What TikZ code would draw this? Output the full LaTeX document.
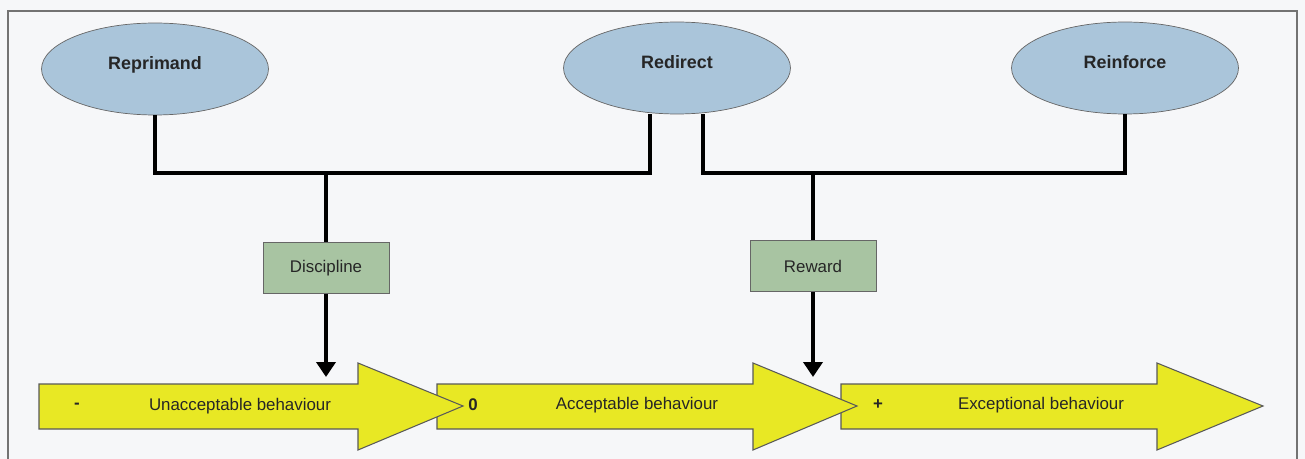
\documentclass[tikz,border=0pt]{standalone}
\usepackage{fontspec}
\setmainfont{Liberation Sans}
\usepackage{tikz}
\usetikzlibrary{shapes.geometric, arrows.meta, calc}

\definecolor{ovalblue}{RGB}{170,197,218}
\definecolor{tagGreen}{RGB}{168,196,162}
\definecolor{barYellow}{RGB}{232,232,36}
\definecolor{paper}{RGB}{246,247,249}

\begin{document}
\begin{tikzpicture}[
    x=0.02cm, y=-0.02cm,
    every node/.style={font=\fontsize{9.6}{11}\selectfont, text=black!85},
    act/.style={ellipse, draw=black!60, fill=ovalblue, minimum width=4.54cm, minimum height=1.84cm, text height=0.26cm, text depth=0.24cm, font=\fontsize{10.2}{12}\selectfont\bfseries},
    tag/.style={rectangle, draw=black!60, fill=tagGreen, minimum width=2.52cm, minimum height=1.02cm},
    yarrow/.style={draw=black!65, fill=barYellow, line width=0.6pt, line join=miter},
    link/.style={line width=2.6pt, line join=miter},
    arrow/.style={line width=2.6pt, -{Triangle[length=0.3cm, width=0.38cm]}},
    sign/.style={font=\fontsize{9.6}{11}\selectfont\bfseries}
]

% page and frame
\useasboundingbox (0,0) rectangle (1305,459);
\fill[paper] (0,0) rectangle (1305,459);
\draw[black!55, line width=0.6pt] (8,11) rectangle (1297,475);

% actions
\node[act] (rep) at (155,69) {Reprimand};
\node[act] (red) at (677,68) {Redirect};
\node[act] (rein) at (1125,68) {Reinforce};

% outcomes
\node[tag] (disc) at (326,268) {Discipline};
\node[tag] (rew) at (813,266) {Reward};

% tree
\coordinate (barL) at (0,173);
\coordinate (hit) at (0,377);
\draw[link] (rep.south) -- (rep.south |- barL) -| ($(red.south)+(-27,0)$);
\draw[link] ($(red.south)+(26,0)$) |- (barL -| rein.south) -- (rein.south);
\draw[link] (disc.north) -- (disc.north |- barL);
\draw[link] (rew.north) -- (rew.north |- barL);
\draw[arrow] (disc.south) -- (disc.south |- hit);
\draw[arrow] (rew.south) -- (rew.south |- hit);

% behaviour scale (right one first, so the left heads lie on top)
\foreach \a/\b/\c in {841/1157/1263, 437/753/857, 39/358/463}
    \draw[yarrow] (\a,384) -- (\b,384) -- (\b,363) -- (\c,406) -- (\b,450) -- (\b,429) -- (\a,429) -- cycle;

\node[sign] (neg) at (77,406) {-};
\node (unacc) at (240,406) {Unacceptable behaviour};
\node[sign] (zero) at (473,405) {0};
\node (acc) at (637,405) {Acceptable behaviour};
\node[sign] (plus) at (878,405) {+};
\node (exc) at (1041,405) {Exceptional behaviour};

\end{tikzpicture}
\end{document}
